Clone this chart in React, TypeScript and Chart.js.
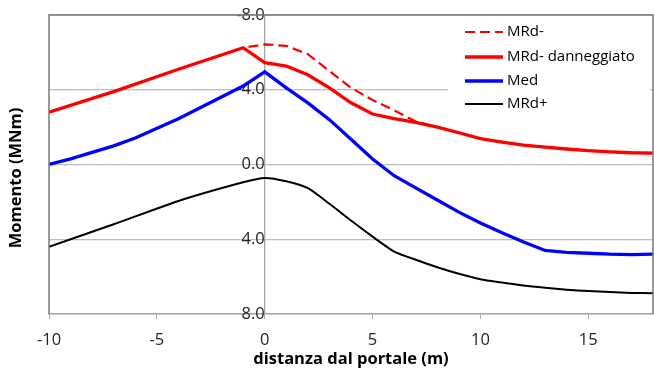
import React, { useEffect, useRef } from "react";
import { Chart, registerables } from "chart.js";
Chart.register(...registerables);

// x positions (m)
const xMRd = [-10, -7, -4, -1, 0, 1, 2, 3, 4, 5, 6, 7, 8, 9, 10, 11, 12, 13, 14, 15, 16, 17, 18];
const xMed = [-10, -9, -7, -6, -4, -1, 0, 1, 2, 3, 4, 5, 6, 7, 8, 9, 10, 11, 12, 13, 14, 15, 16, 17, 18];

// series values (MNm)
const mrdMinus = [-2.8, -3.9, -5.1, -6.25, -6.43, -6.35, -5.9, -5.0, -4.1, -3.45, -2.9, -2.3, -2.0, -1.7, -1.38, -1.2, -1.04, -0.93, -0.83, -0.74, -0.68, -0.63, -0.61];
const mrdDanneggiato = [-2.8, -3.9, -5.1, -6.25, -5.45, -5.27, -4.8, -4.1, -3.3, -2.7, -2.45, -2.25, -2.0, -1.7, -1.38, -1.2, -1.04, -0.93, -0.83, -0.74, -0.68, -0.63, -0.61];
const med = [0.0, -0.3, -1.0, -1.42, -2.45, -4.2, -4.96, -4.1, -3.3, -2.4, -1.35, -0.29, 0.6, 1.25, 1.9, 2.55, 3.13, 3.65, 4.15, 4.6, 4.7, 4.75, 4.8, 4.82, 4.8];
const mrdPlus = [4.4, 3.2, 1.95, 0.95, 0.72, 0.9, 1.27, 2.1, 3.0, 3.86, 4.66, 5.1, 5.5, 5.85, 6.14, 6.32, 6.48, 6.6, 6.7, 6.77, 6.82, 6.87, 6.89];

const seriesLabels = ["MRd-", "MRd- danneggiato", "Med", "MRd+"];
const xTitle = "distanza dal portale (m)";
const yTitle = "Momento (MNm)";

const FONT = "'Open Sans', 'Noto Sans', sans-serif";

function pts(xs: number[], ys: number[]) {
  return xs.map((x, i) => ({ x, y: ys[i] }));
}

const framePlugin = {
  id: "frame",
  afterDatasetsDraw(chart: any) {
    const { ctx, chartArea } = chart;
    const { left, right, top, bottom } = chartArea;
    ctx.save();
    // frame: top, left, right
    ctx.strokeStyle = "#7a7a7a";
    ctx.lineWidth = 1.5;
    ctx.beginPath();
    ctx.moveTo(left, bottom);
    ctx.lineTo(left, top);
    ctx.lineTo(right, top);
    ctx.lineTo(right, bottom);
    ctx.stroke();

    // legend
    const lx0 = 448, ly0 = 19, lw = 202, lh = 97;
    ctx.fillStyle = "#ffffff";
    ctx.fillRect(lx0, ly0, lw, lh);
    const rows = [32, 57, 81, 104];
    chart.data.datasets.forEach((ds: any, i: number) => {
      const y = rows[i];
      ctx.strokeStyle = ds.borderColor;
      ctx.lineWidth = ds.borderWidth;
      ctx.setLineDash(ds.borderDash || []);
      ctx.beginPath();
      ctx.moveTo(465, y);
      ctx.lineTo(503, y);
      ctx.stroke();
      ctx.setLineDash([]);
      ctx.fillStyle = "#000000";
      ctx.font = `15px ${FONT}`;
      ctx.textAlign = "left";
      ctx.textBaseline = "middle";
      ctx.fillText(ds.label, 507, y);
    });

    // y title
    ctx.translate(16, 178);
    ctx.rotate(-Math.PI / 2);
    ctx.fillStyle = "#000000";
    ctx.font = `bold 16.5px ${FONT}`;
    ctx.textAlign = "center";
    ctx.textBaseline = "middle";
    ctx.fillText(yTitle, 0, 0);
    ctx.restore();
  },
};

export default function App() {
  const ref = useRef<HTMLCanvasElement>(null);
  useEffect(() => {
    const canvas = ref.current!;
    const chart = new Chart(canvas, {
      type: "line",
      data: {
        datasets: [
          { label: seriesLabels[0], data: pts(xMRd, mrdMinus), borderColor: "#ff0000", borderWidth: 2.2, borderDash: [10, 5], pointRadius: 0, tension: 0, fill: false },
          { label: seriesLabels[1], data: pts(xMRd, mrdDanneggiato), borderColor: "#ff0000", borderWidth: 3.3, pointRadius: 0, tension: 0, fill: false },
          { label: seriesLabels[2], data: pts(xMed, med), borderColor: "#0000ff", borderWidth: 3.3, pointRadius: 0, tension: 0, fill: false },
          { label: seriesLabels[3], data: pts(xMRd, mrdPlus), borderColor: "#000000", borderWidth: 2, pointRadius: 0, tension: 0.2, fill: false },
        ],
      },
      options: {
        animation: false,
        responsive: false,
        layout: { padding: { left: 49, right: 1, top: 15, bottom: 0 } },
        plugins: { legend: { display: false }, tooltip: { enabled: false } },
        scales: {
          x: {
            type: "linear",
            min: -10,
            max: 18,
            ticks: { stepSize: 5, includeBounds: false, padding: 11, color: "#222", font: { family: FONT, size: 16.5 } },
            grid: { drawOnChartArea: false, drawTicks: true, tickLength: 5, color: "#a6a6a6" },
            border: { color: "#a6a6a6", width: 1.5 },
            title: { display: true, text: xTitle, color: "#000", padding: { top: 0, bottom: 0 }, font: { family: FONT, size: 16.5, weight: "bold" } },
            afterFit: (s: any) => { s.paddingLeft = 0; s.paddingRight = 0; s.height = 55; },
          },
          y: {
            type: "linear",
            min: -8,
            max: 8,
            reverse: true,
            position: { x: 0 },
            ticks: { stepSize: 4, padding: 18, color: "#222", font: { family: FONT, size: 16.5 }, callback: (v: any) => Number(v).toFixed(1) },
            grid: { color: "#bdbdbd", lineWidth: 1.3, drawTicks: false, tickLength: 0 },
            border: { color: "#a6a6a6", width: 1.3 },
            afterFit: (s: any) => { s.paddingTop = 0; s.paddingBottom = 0; },
          },
        },
      },
      plugins: [framePlugin],
    } as any);
    return () => chart.destroy();
  }, []);
  return (
    <div style={{ position: "fixed", left: 0, top: 0, width: 654, height: 369, background: "#fff" }}>
      <canvas ref={ref} width={654} height={369} style={{ width: 654, height: 369, display: "block" }} />
    </div>
  );
}
